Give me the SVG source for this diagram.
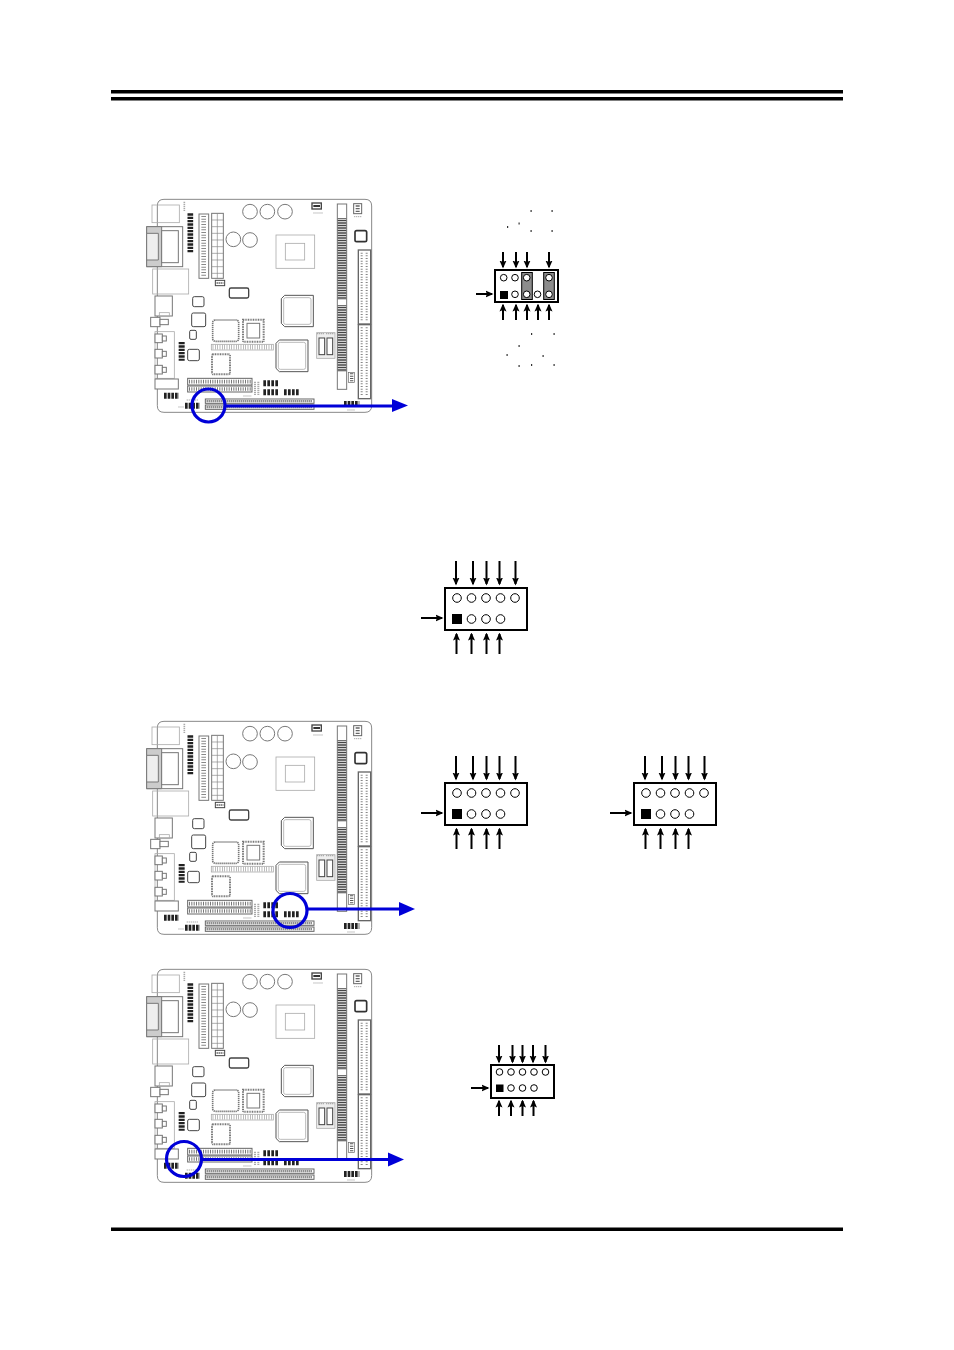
<svg xmlns="http://www.w3.org/2000/svg" width="954" height="1350" viewBox="0 0 954 1350">
<style>
.l{fill:none;stroke:#aaa;stroke-width:2.4}
.m{fill:#fff;stroke:#777;stroke-width:3}
.d{fill:#fff;stroke:#444;stroke-width:4}
.pt{fill:none;stroke:#777;stroke-width:11;stroke-dasharray:3 4}
.pd{fill:none;stroke:#888;stroke-width:8;stroke-dasharray:3 4}
.dk{fill:none;stroke:#222;stroke-width:14;stroke-dasharray:7 3}
.lb{fill:none;stroke:#aaa;stroke-width:5;stroke-dasharray:4 2}
.blue{fill:none;stroke:#0000d8;stroke-width:3.2}
.bh{fill:#0000d8}
.box{fill:#fff;stroke:#000;stroke-width:2}
.pin{fill:#fff;stroke:#000;stroke-width:1}
.arr{stroke:#000;stroke-width:2;fill:none;marker-end:url(#ah)}
.jp{fill:#8c8c8c;stroke:#000;stroke-width:1}
.dot{fill:#333}
.rule{fill:#000}
</style>
<defs>
<marker id="ah" markerWidth="8" markerHeight="8" refX="6.500" refY="4" orient="auto" markerUnits="userSpaceOnUse" viewBox="0 0 8 8"><path d="M0 0.500L8 4L0 7.500L1.500 4Z" fill="#000"/></marker>
<filter id="soft" x="-5%" y="-5%" width="110%" height="110%"><feGaussianBlur stdDeviation="0.45"/></filter>
<g id="board" filter="url(#soft)">
<g transform="translate(140,190) scale(.33333)">
<path d="M72 28H675Q695 28 695 48V647Q695 667 675 667H72Q52 667 52 647V48Q52 28 72 28Z" fill="#fff" stroke="#888" stroke-width="3"/>
<rect class="l" x="36" y="45" width="82" height="53" fill="#fff"/>
<path class="lb" d="M133 35V65"/>
<path class="dk" d="M151 70V188" style="stroke-width:17"/>
<rect class="m" x="177" y="72" width="29" height="193"/>
<path class="pd" d="M191 78V260" style="stroke-width:14;stroke-dasharray:3 5"/>
<rect class="m" x="215" y="70" width="35" height="195"/>
<path d="M215 90H250M215 110H250M215 130H250M215 150H250M215 170H250M215 190H250M215 210H250M215 230H250M215 250H250M232 70V265" stroke="#888" stroke-width="2" fill="none"/>
<circle class="m" cx="330" cy="65" r="22"/><circle class="m" cx="382" cy="65" r="22"/><circle class="m" cx="435" cy="65" r="22"/>
<circle class="m" cx="280" cy="148" r="22"/><circle class="m" cx="330" cy="150" r="22"/>
<rect class="d" x="516" y="39" width="28" height="18"/><path d="M520 48H540" stroke="#333" stroke-width="6"/>
<path class="lb" d="M520 69H550" style="stroke-width:3"/>
<rect class="m" x="592" y="42" width="28" height="556"/>
<path d="M606 85V330M606 346V545" stroke="#444" stroke-width="26" stroke-dasharray="3 2" fill="none"/>
<rect class="d" x="641" y="41" width="24" height="30" style="stroke-width:3;stroke:#666"/><path d="M653 46V66" stroke="#666" stroke-width="12" stroke-dasharray="4 4"/>
<path class="lb" d="M642 80H665" style="stroke-width:3"/>
<rect x="645" y="122" width="35" height="33" rx="5" fill="#fff" stroke="#333" stroke-width="5"/>
<rect x="655" y="180" width="37" height="222" fill="#fff" stroke="#666" stroke-width="4"/>
<path class="pd" d="M665 188V396M680 188V396" style="stroke-width:6;stroke-dasharray:3 5"/>
<rect x="655" y="404" width="37" height="222" fill="#fff" stroke="#666" stroke-width="4"/>
<path class="pd" d="M665 412V620M680 412V620" style="stroke-width:6;stroke-dasharray:3 5"/>
<rect class="l" x="408" y="135" width="116" height="100"/>
<rect class="l" x="436" y="160" width="58" height="50"/>
<rect class="m" x="20" y="110" width="108" height="120"/>
<path d="M20 110H65V230H20Z" fill="#ccc" stroke="#777" stroke-width="3"/>
<rect class="m" x="65" y="122" width="50" height="96"/>
<path d="M20 130H55V210H20Z" fill="#eee" stroke="#777" stroke-width="3"/>
<rect class="l" x="38" y="237" width="108" height="75"/>
<rect class="m" x="45" y="318" width="52" height="60"/>
<rect class="l" x="58" y="368" width="30" height="12"/>
<rect class="m" x="32" y="382" width="28" height="28"/>
<rect class="m" x="60" y="388" width="25" height="16"/>
<rect class="l" x="45" y="425" width="58" height="140"/>
<g class="m"><rect x="45" y="432" width="22" height="26"/><rect x="45" y="478" width="22" height="26"/><rect x="45" y="526" width="22" height="26"/><rect x="67" y="438" width="12" height="15"/><rect x="67" y="484" width="12" height="15"/><rect x="67" y="532" width="12" height="15"/></g>
<rect class="m" x="45" y="567" width="70" height="30"/>
<rect x="158" y="320" width="34" height="30" rx="5" class="m" style="stroke:#444"/>
<rect x="155" y="369" width="42" height="41" rx="5" class="m" style="stroke:#444"/>
<rect x="149" y="421" width="20" height="27" rx="4" class="m" style="stroke:#444"/>
<rect x="143" y="478" width="35" height="34" rx="5" class="m" style="stroke:#444"/>
<rect x="268" y="294" width="58" height="30" rx="5" class="m" style="stroke:#444;stroke-width:4"/>
<rect class="d" x="226" y="271" width="28" height="16" style="stroke-width:3"/><path d="M230 279H250" stroke="#555" stroke-width="6" stroke-dasharray="3 3"/>
<rect x="218" y="390" width="78" height="64" rx="8" class="m" style="stroke-width:5" stroke-dasharray="4 2"/>
<rect x="309" y="389" width="62" height="66" class="m" style="stroke-width:6" stroke-dasharray="3 2"/>
<rect x="321" y="400" width="38" height="44" class="m"/>
<path d="M434 316H520V410H434L424 400V326Z" class="m" style="stroke:#555"/>
<rect x="431" y="323" width="82" height="80" rx="6" class="l"/>
<path d="M418 450H504V545H418L408 535V460Z" class="m" style="stroke:#555"/>
<rect x="415" y="457" width="82" height="81" rx="6" class="l"/>
<rect x="214" y="463" width="186" height="17" class="l"/>
<path d="M218 471.500H396" stroke="#999" stroke-width="14" stroke-dasharray="2 5" fill="none"/>
<rect x="216" y="493" width="54" height="60" rx="4" class="m" style="stroke-width:6" stroke-dasharray="3 2"/>
<path class="dk" d="M125 456V512" style="stroke-width:18;stroke-dasharray:7 3"/>
<rect class="l" x="530" y="428" width="55" height="77" style="fill:#eee"/>
<rect class="d" x="537" y="444" width="17" height="50" style="stroke-width:3"/><rect class="d" x="561" y="444" width="17" height="50" style="stroke-width:3"/>
<path class="lb" d="M531 431H552M558 431H583" style="stroke-width:4"/>
<rect x="143" y="565" width="193" height="20" fill="#fff" stroke="#666" stroke-width="3"/>
<rect x="143" y="588" width="193" height="18" fill="#fff" stroke="#666" stroke-width="3"/>
<path class="pt" d="M147 575H332M147 597H332"/>
<path class="lb" d="M345 575V615M355 575V615" style="stroke-width:6"/>
<path class="dk" d="M370 580H416M370 607H416M432 607H478" style="stroke-width:18;stroke-dasharray:8 4"/>
<rect x="626" y="548" width="18" height="30" fill="#fff" stroke="#666" stroke-width="2"/><path class="pd" d="M635 550V576" style="stroke-width:10;stroke:#555"/>
<path class="dk" d="M72 617H117M612 642H658" style="stroke-width:18;stroke-dasharray:8 3"/>
<path class="dk" d="M135 647H180" style="stroke-width:18;stroke-dasharray:8 3"/>
<path class="lb" d="M140 630H176M115 651H132M310 618H335M622 660H645" style="stroke-width:3"/>
<rect x="196" y="627" width="326" height="13" fill="#fff" stroke="#666" stroke-width="3"/>
<rect x="196" y="645" width="326" height="13" fill="#fff" stroke="#666" stroke-width="3"/>
<path d="M200 633.500H518M200 651.500H518" stroke="#555" stroke-width="7" stroke-dasharray="3 3" fill="none"/>
</g>
</g>
<g id="hdr">
<rect class="box" x="445" y="588" width="82" height="42"/>
<circle class="pin" cx="457" cy="598" r="4.300"/><circle class="pin" cx="471.500" cy="598" r="4.300"/><circle class="pin" cx="486" cy="598" r="4.300"/><circle class="pin" cx="500.500" cy="598" r="4.300"/><circle class="pin" cx="515" cy="598" r="4.300"/>
<rect x="452" y="614" width="10" height="10" fill="#000"/>
<circle class="pin" cx="471.500" cy="619" r="4.300"/><circle class="pin" cx="486" cy="619" r="4.300"/><circle class="pin" cx="500.500" cy="619" r="4.300"/>
<path class="arr" d="M456 561V584"/><path class="arr" d="M473 561V584"/><path class="arr" d="M486.500 561V584"/><path class="arr" d="M499.500 561V584"/><path class="arr" d="M515.500 561V584"/>
<path class="arr" d="M456.500 654V634"/><path class="arr" d="M471.500 654V634"/><path class="arr" d="M486.500 654V634"/><path class="arr" d="M499.500 654V634"/>
<path class="arr" d="M421 618H442"/>
</g>
</defs>
<g id="rules">
<rect class="rule" x="111" y="90" width="732" height="3.500"/>
<rect class="rule" x="111" y="97" width="732" height="3.500"/>
<rect class="rule" x="111" y="1227.500" width="732" height="3.500"/>
</g>
<g id="board-1"><use href="#board"/></g>
<g id="board-2"><use href="#board" y="522"/></g>
<g id="board-3"><use href="#board" y="770"/></g>
<g id="header-jumper">
<rect class="box" x="495" y="270" width="63" height="32"/>
<rect class="jp" x="521.700" y="272.500" width="10.600" height="27"/>
<rect class="jp" x="543.700" y="272.500" width="10.600" height="27"/>
<g class="pin"><circle cx="503.700" cy="277.700" r="3.300"/><circle cx="515" cy="277.700" r="3.300"/><circle cx="526.700" cy="277.700" r="3.300"/><circle cx="549" cy="277.700" r="3.300"/><circle cx="515" cy="294.300" r="3.300"/><circle cx="526.700" cy="294.300" r="3.300"/><circle cx="537.500" cy="294.300" r="3.300"/><circle cx="549" cy="294.300" r="3.300"/></g>
<rect x="500" y="291" width="8" height="8" fill="#000"/>
<g id="dots" class="dot"><rect x="530.500" y="210" width="1.200" height="2"/><rect x="551.500" y="210" width="1.200" height="2"/><rect x="518.500" y="222.500" width="1.200" height="2"/><rect x="507" y="226" width="1.200" height="2"/><rect x="530.500" y="230" width="1.200" height="2"/><rect x="551.500" y="230" width="1.200" height="2"/><rect x="531" y="333" width="1.200" height="2"/><rect x="553.500" y="333" width="1.200" height="2"/><rect x="518.500" y="345" width="1.200" height="2"/><rect x="506.500" y="354" width="1.200" height="2"/><rect x="542.500" y="355" width="1.200" height="2"/><rect x="518.500" y="365" width="1.200" height="2"/><rect x="531" y="364" width="1.200" height="2"/><rect x="553.500" y="364" width="1.200" height="2"/></g>
<path class="arr" d="M503 252V267"/><path class="arr" d="M516 252V267"/><path class="arr" d="M527 252V267"/><path class="arr" d="M549 252V267"/>
<path class="arr" d="M503 320V305"/><path class="arr" d="M516 320V305"/><path class="arr" d="M527 320V305"/><path class="arr" d="M538 320V305"/><path class="arr" d="M549 320V305"/>
<path class="arr" d="M476 294H492"/>
</g>
<g id="header-a"><use href="#hdr"/></g>
<g id="header-b"><use href="#hdr" y="195"/></g>
<g id="header-c"><use href="#hdr" x="189" y="195"/></g>
<g id="header-small">
<rect class="box" x="491" y="1065" width="63" height="33"/>
<g class="pin"><circle cx="499.500" cy="1072" r="3.300"/><circle cx="511" cy="1072" r="3.300"/><circle cx="522.500" cy="1072" r="3.300"/><circle cx="534" cy="1072" r="3.300"/><circle cx="545.500" cy="1072" r="3.300"/><circle cx="511" cy="1088" r="3.300"/><circle cx="522.500" cy="1088" r="3.300"/><circle cx="534" cy="1088" r="3.300"/></g>
<rect x="496" y="1084.500" width="7.500" height="7.500" fill="#000"/>
<path class="arr" d="M499 1045V1062"/><path class="arr" d="M512.500 1045V1062"/><path class="arr" d="M522.500 1045V1062"/><path class="arr" d="M533 1045V1062"/><path class="arr" d="M545.500 1045V1062"/>
<path class="arr" d="M499 1116V1101"/><path class="arr" d="M511 1116V1101"/><path class="arr" d="M522.500 1116V1101"/><path class="arr" d="M533.500 1116V1101"/>
<path class="arr" d="M471 1088H488"/>
</g>
<g id="connectors">
<circle class="blue" cx="208.500" cy="405.500" r="16.500"/><path class="blue" d="M224 406H393"/><path class="bh" d="M392 399L408 405.500L392 412Z"/>
<circle class="blue" cx="290" cy="910.500" r="17"/><path class="blue" d="M307 909H400"/><path class="bh" d="M399 902L415 909L399 916Z"/>
<circle class="blue" cx="184" cy="1159" r="17.500"/><path class="blue" d="M201 1159.500H389"/><path class="bh" d="M388 1152.500L404 1159.500L388 1166.500Z"/>
</g>
</svg>
